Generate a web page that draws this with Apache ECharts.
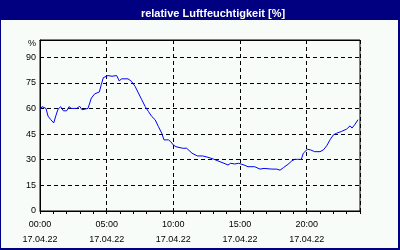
<!DOCTYPE html>
<html><head><meta charset="utf-8">
<script src="https://cdn.jsdelivr.net/npm/echarts@6/dist/echarts.min.js"></script>
<style>html,body{margin:0;padding:0;background:#000080}#c{width:400px;height:250px}</style>
</head><body><div id="c"></div>
<script>
const title = 'relative Luftfeuchtigkeit [%]';
const dateLabel = '17.04.22';
const hours = [0.0,0.15,0.3,0.45,0.6,0.8,1.03,1.2,1.35,1.55,1.75,2.0,2.18,2.35,2.75,2.98,3.15,3.3,3.6,3.85,4.1,4.45,4.6,4.75,4.9,5.1,5.4,5.75,5.95,6.1,6.6,6.85,7.13,7.38,7.63,7.88,8.13,8.38,8.63,8.88,9.13,9.3,9.63,9.8,10.0,10.2,10.7,11.0,11.4,11.8,12.2,12.6,13.0,13.5,13.8,14.1,14.3,14.6,14.9,15.3,15.6,16.1,16.5,16.8,17.4,17.75,18.0,18.25,18.6,18.87,19.1,19.3,19.45,19.6,19.75,20.05,20.3,20.6,20.75,21.0,21.25,21.5,21.75,22.0,22.25,22.6,23.0,23.25,23.4,23.6,23.85];
const humidity = [59,61,62,60,55.5,53.5,51.5,56,59.5,61,58.6,58.6,61,60,60,61.2,59.2,60,60,66,68.5,69.6,74,78,79,79.2,78.8,79.2,76,77.3,77.3,75.9,72.9,69,65.1,61.2,58.2,55.3,53.4,49.4,45.5,41.6,41.6,40.6,38.6,37.6,36.7,36.7,33.8,32.2,32.2,31.4,30.4,28.8,27.9,26.9,27.9,27.5,27.9,26.9,25.9,25.9,24.5,24.9,24.5,24.5,23.9,25.3,27.3,29.2,30.2,30.2,30.8,30.2,33.8,36.1,35.7,34.7,33.8,34.7,35.7,38.1,41.6,44.5,45.5,46.5,47.9,49.8,48.5,50.4,53.4];
const yTicks = [0,15,30,45,60,75,90];
const xLabelHours = [0,5,10,15,20];

const FONT = 'Liberation Sans';
const chart = echarts.init(document.getElementById('c'), null, {renderer:'canvas'});
const pad = n => (n < 10 ? '0' : '') + n;
chart.setOption({
  animation: false,
  backgroundColor: '#000080',
  graphic: [{type:'rect', z:-10, shape:{x:1, y:20, width:397, height:228}, style:{fill:'#F8FCF8'}}],
  title: {text: title, left: 208, top: 3, textAlign: 'center',
    textStyle: {color:'#ffffff', fontFamily: FONT, fontWeight:'bold', fontSize: 11}},
  grid: {left: 40, right: 40, top: 40, bottom: 39, show: true, borderColor:'#000', borderWidth:1, backgroundColor:'#F8FCF8'},
  xAxis: [{
    type:'value', min:0, max:24, interval:1, position:'bottom',
    axisLine:{show:true, lineStyle:{color:'#000', width:1}},
    axisTick:{show:true, length:3, lineStyle:{color:'#000'}},
    splitLine:{show:false},
    axisLabel:{color:'#000', fontFamily:FONT, fontSize:9, lineHeight:15, margin:6,
      formatter: v => xLabelHours.indexOf(v) >= 0 ? pad(v) + ':00\n' + dateLabel : ''}
  },{
    type:'value', min:0, max:24, interval:5, position:'top',
    axisLine:{show:true, lineStyle:{color:'#000', width:1}},
    axisTick:{show:false}, axisLabel:{show:false},
    splitLine:{show:true, lineStyle:{color:'#000', type:[4,3], width:1}}
  }],
  yAxis: {
    type:'value', min:0, max:100, interval:15,
    name:'%', nameLocation:'end', nameGap:-4,
    nameTextStyle:{color:'#000', fontFamily:FONT, fontSize:9, align:'right', verticalAlign:'middle', padding:[0,4,0,0]},
    axisLine:{show:true, lineStyle:{color:'#000', width:1}},
    axisTick:{show:false},
    axisLabel:{color:'#000', fontFamily:FONT, fontSize:9, margin:4,
      formatter: v => yTicks.indexOf(v) >= 0 ? String(v) : ''},
    splitLine:{show:true, lineStyle:{color:'#000', type:[4,3], width:1}}
  },
  series: [{
    type:'line', xAxisIndex:0, showSymbol:false, symbol:'none',
    lineStyle:{color:'#0000FF', width:1},
    data: hours.map((h,i) => [h, humidity[i]])
  }]
});
</script></body></html>
